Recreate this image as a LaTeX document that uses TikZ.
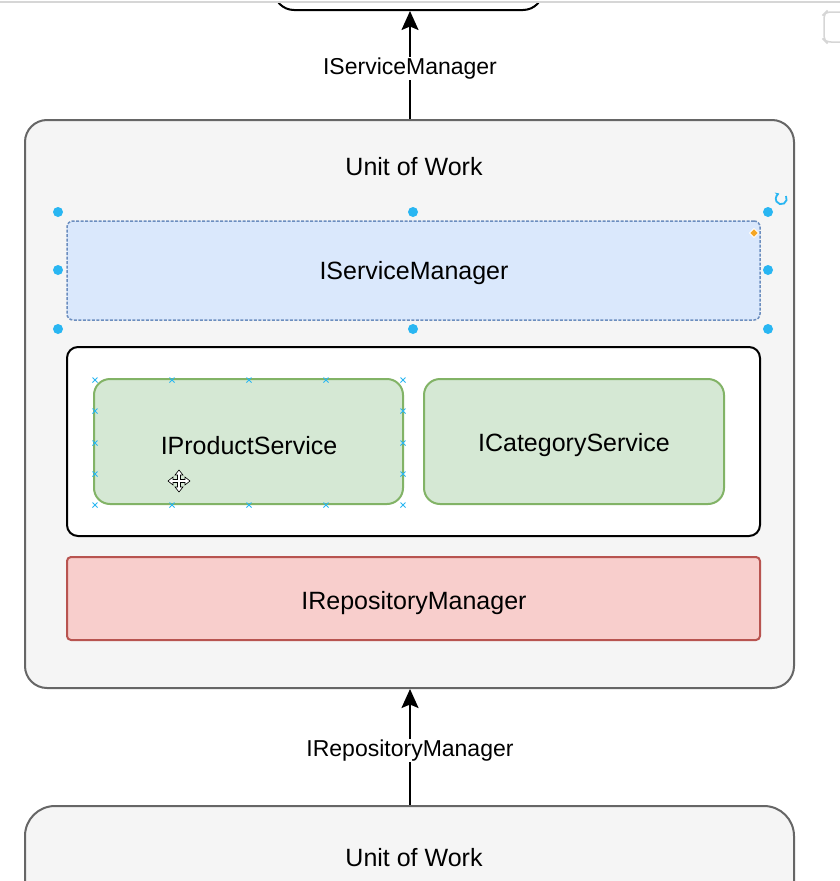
\documentclass[tikz,border=0pt]{standalone}
\usepackage{fontspec}
\setmainfont{Liberation Sans}
\usetikzlibrary{arrows.meta}
\definecolor{outerfill}{HTML}{F5F5F5}
\definecolor{outerdraw}{HTML}{666666}
\definecolor{bluefill}{HTML}{DAE8FC}
\definecolor{bluedraw}{HTML}{6C8EBF}
\definecolor{greenfill}{HTML}{D5E8D4}
\definecolor{greendraw}{HTML}{82B366}
\definecolor{redfill}{HTML}{F8CECC}
\definecolor{reddraw}{HTML}{B85450}
\definecolor{handle}{HTML}{29B6F2}
\definecolor{uigray}{HTML}{D6D6D6}
\definecolor{orangeh}{HTML}{F5A623}
\begin{document}
\begin{tikzpicture}[x=1pt,y=-1pt,
  boxtext/.style={font=\fontsize{25}{30}\selectfont, text=black, yshift=-2.5pt},
  lbltext/.style={font=\fontsize{23}{27}\selectfont, text=black, fill=white, inner sep=1pt, yshift=-3.5pt},
  outerbox/.style={draw=outerdraw, fill=outerfill, line width=2pt, rounded corners=22pt, inner sep=0pt},
  whitebox/.style={draw=black, fill=white, line width=2pt, rounded corners=11pt, inner sep=0pt},
  bluebox/.style={draw=bluedraw, fill=bluefill, line width=1.5pt, dash pattern=on 3pt off 1.5pt, rounded corners=6pt, inner sep=0pt},
  greenbox/.style={draw=greendraw, fill=greenfill, line width=2pt, rounded corners=16pt, inner sep=0pt},
  redbox/.style={draw=reddraw, fill=redfill, line width=2pt, rounded corners=4pt, inner sep=0pt},
  arr/.style={draw=black, line width=2pt, -{Stealth[length=19pt,width=17pt,inset=3.5pt]}},
  hdot/.style={fill=handle},
  xmark/.style={draw=handle, line width=1pt}
]
\useasboundingbox (0,0) rectangle (840,881);
\fill[white] (0,0) rectangle (840,881);

% top UI edge
\draw[uigray, line width=1.5pt] (0,2) -- (840,2);
\draw[uigray, line width=1.5pt, rounded corners=5pt] (860,12) -- (826,12) -- (824,14) -- (824,40) -- (826,42) -- (860,42);

% top (partial) box
\begin{scope}
  \clip (0,3) rectangle (840,881);
  \node[draw=black, fill=white, line width=2pt, rounded corners=20pt, minimum width=269pt, minimum height=110pt] (topbox) at (408.5,-45) {};
\end{scope}

% outer Unit of Work
\node[outerbox, minimum width=769pt, minimum height=568pt] (uow) at (409.5,404) {};
\node[boxtext] (uowt) at (414,164) {Unit of Work};

% IServiceManager
\node[bluebox, minimum width=693pt, minimum height=99pt] (ism) at (413.5,270.5) {};
\node[boxtext] (ismt) at (414,271) {IServiceManager};

% services container
\node[whitebox, minimum width=693pt, minimum height=189pt] (svc) at (413.5,441.5) {};
\node[greenbox, minimum width=309pt, minimum height=125pt] (ips) at (248.5,441.5) {};
\node[boxtext] (ipst) at (249,443) {IProductService};
\node[greenbox, minimum width=300pt, minimum height=125pt] (ics) at (574,441.5) {};
\node[boxtext] (icst) at (574,443) {ICategoryService};

% IRepositoryManager
\node[redbox, minimum width=693pt, minimum height=83pt] (irm) at (413.5,598.5) {};
\node[boxtext] (irmt) at (414,601) {IRepositoryManager};

% bottom Unit of Work (partial)
\begin{scope}
  \clip (0,0) rectangle (840,881);
  \node[outerbox, rounded corners=30pt, minimum width=769pt, minimum height=188pt] (uow2) at (409.5,900) {};
\end{scope}
\node[boxtext] (uow2t) at (414,855) {Unit of Work};

% connectors
\draw[arr] (uow.north -| 410,0) -- (topbox.south -| 410,0) node[lbltext, pos=0.5] (l1) {IServiceManager};
\draw[arr] (uow2.north -| 410,0) -- (uow.south -| 410,0) node[lbltext, pos=0.5] (l2) {IRepositoryManager};

% selection handles
\foreach \px/\py in {58/212, 413/212, 768/212, 58/270, 768/270, 58/329, 413/329, 768/329}
  \fill[hdot] (\px,\py) circle (5pt);
% rotate handle
\draw[handle, line width=1.8pt, -{Stealth[length=4pt,width=5pt]}] (786,196) arc[start angle=30, end angle=-250, radius=5.5pt];
% orange diamond
\fill[orangeh] (754,228.5) -- (758.5,233) -- (754,237.5) -- (749.5,233) -- cycle;
\draw[white, line width=0.8pt] (754,228.5) -- (758.5,233) -- (754,237.5) -- (749.5,233) -- cycle;

% connection point crosses around IProductService
\foreach \px in {95,172,249,326,403} {
  \draw[xmark] (\px-2.5,377.5) -- (\px+2.5,382.5) (\px-2.5,382.5) -- (\px+2.5,377.5);
  \draw[xmark] (\px-2.5,502.5) -- (\px+2.5,507.5) (\px-2.5,507.5) -- (\px+2.5,502.5);
}
\foreach \py in {411,443,474} {
  \draw[xmark] (92.5,\py-2.5) -- (97.5,\py+2.5) (92.5,\py+2.5) -- (97.5,\py-2.5);
  \draw[xmark] (400.5,\py-2.5) -- (405.5,\py+2.5) (400.5,\py+2.5) -- (405.5,\py-2.5);
}

% move cursor
\begin{scope}[shift={(179,481)}]
  \filldraw[fill=white, draw=black, line width=0.6pt]
    (0,-11) -- (4,-6) -- (1.5,-6) -- (1.5,-1.5) -- (6,-1.5) -- (6,-4) -- (11,0) -- (6,4) -- (6,1.5) -- (1.5,1.5) -- (1.5,6) -- (4,6) -- (0,11) -- (-4,6) -- (-1.5,6) -- (-1.5,1.5) -- (-6,1.5) -- (-6,4) -- (-11,0) -- (-6,-4) -- (-6,-1.5) -- (-1.5,-1.5) -- (-1.5,-6) -- (-4,-6) -- cycle;
\end{scope}
\end{tikzpicture}
\end{document}
